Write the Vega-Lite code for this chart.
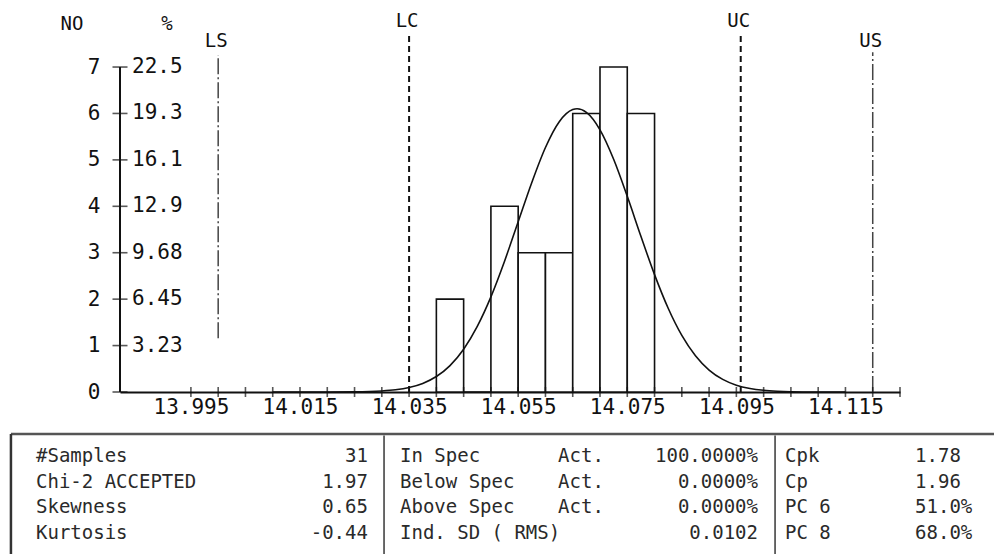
{
  "$schema": "https://vega.github.io/schema/vega-lite/v6.json",
  "autosize": {"type": "none"},
  "width": 780,
  "height": 383,
  "padding": {"left": 120, "top": 9, "right": 94, "bottom": 162},
  "background": "white",
  "config": {"view": {"stroke": null}, "font": "DejaVu Sans Mono", "text": {"font": "DejaVu Sans Mono"}},
  "datasets": {
    "bars": [
      {"bin_start": 14.040, "bin_end": 14.045, "count": 2},
      {"bin_start": 14.045, "bin_end": 14.050, "count": 0},
      {"bin_start": 14.050, "bin_end": 14.055, "count": 4},
      {"bin_start": 14.055, "bin_end": 14.060, "count": 3},
      {"bin_start": 14.060, "bin_end": 14.065, "count": 3},
      {"bin_start": 14.065, "bin_end": 14.070, "count": 6},
      {"bin_start": 14.070, "bin_end": 14.075, "count": 7},
      {"bin_start": 14.075, "bin_end": 14.080, "count": 6}
    ],
    "curve": [
      {"x": 14.010, "y": 0}, {"x": 14.015, "y": 0.0001}, {"x": 14.020, "y": 0.0006},
      {"x": 14.025, "y": 0.004}, {"x": 14.030, "y": 0.023}, {"x": 14.0325, "y": 0.048},
      {"x": 14.035, "y": 0.097}, {"x": 14.0375, "y": 0.185}, {"x": 14.040, "y": 0.333},
      {"x": 14.0425, "y": 0.569}, {"x": 14.045, "y": 0.922}, {"x": 14.0475, "y": 1.414},
      {"x": 14.050, "y": 2.050}, {"x": 14.0525, "y": 2.818}, {"x": 14.055, "y": 3.667},
      {"x": 14.0575, "y": 4.514}, {"x": 14.060, "y": 5.267}, {"x": 14.0625, "y": 5.817},
      {"x": 14.065, "y": 6.083}, {"x": 14.0658, "y": 6.100}, {"x": 14.0675, "y": 6.023},
      {"x": 14.070, "y": 5.648}, {"x": 14.0725, "y": 5.014}, {"x": 14.075, "y": 4.215},
      {"x": 14.0775, "y": 3.355}, {"x": 14.080, "y": 2.529}, {"x": 14.0825, "y": 1.804},
      {"x": 14.085, "y": 1.219}, {"x": 14.0875, "y": 0.781}, {"x": 14.090, "y": 0.473},
      {"x": 14.0925, "y": 0.271}, {"x": 14.095, "y": 0.147}, {"x": 14.0975, "y": 0.076},
      {"x": 14.100, "y": 0.037}, {"x": 14.1025, "y": 0.017}, {"x": 14.105, "y": 0.007},
      {"x": 14.110, "y": 0.001}, {"x": 14.115, "y": 0}
    ],
    "yticks": [
      {"no": 0, "pct": ""}, {"no": 1, "pct": "3.23"}, {"no": 2, "pct": "6.45"},
      {"no": 3, "pct": "9.68"}, {"no": 4, "pct": "12.9"}, {"no": 5, "pct": "16.1"},
      {"no": 6, "pct": "19.3"}, {"no": 7, "pct": "22.5"}
    ],
    "xticks": [
      {"v": 13.995}, {"v": 14.000}, {"v": 14.005}, {"v": 14.010}, {"v": 14.015},
      {"v": 14.020}, {"v": 14.025}, {"v": 14.030}, {"v": 14.035}, {"v": 14.040},
      {"v": 14.045}, {"v": 14.050}, {"v": 14.055}, {"v": 14.060}, {"v": 14.065},
      {"v": 14.070}, {"v": 14.075}, {"v": 14.080}, {"v": 14.085}, {"v": 14.090},
      {"v": 14.095}, {"v": 14.100}, {"v": 14.105}, {"v": 14.110}, {"v": 14.115},
      {"v": 14.120}, {"v": 14.125}
    ],
    "limits": [
      {"name": "LS", "value": 14.000},
      {"name": "LC", "value": 14.035},
      {"name": "UC", "value": 14.0958},
      {"name": "US", "value": 14.120}
    ],
    "table": [
      {"row": 1, "l1": "#Samples", "v1": "31", "l2": "In Spec", "a2": "Act.", "v2": "100.0000%", "l3": "Cpk", "v3": "1.78"},
      {"row": 2, "l1": "Chi-2 ACCEPTED", "v1": "1.97", "l2": "Below Spec", "a2": "Act.", "v2": "0.0000%", "l3": "Cp", "v3": "1.96"},
      {"row": 3, "l1": "Skewness", "v1": "0.65", "l2": "Above Spec", "a2": "Act.", "v2": "0.0000%", "l3": "PC 6", "v3": "51.0%"},
      {"row": 4, "l1": "Kurtosis", "v1": "-0.44", "l2": "Ind. SD ( RMS)", "a2": "", "v2": "0.0102\u00a0", "l3": "PC 8", "v3": "68.0%"}
    ]
  },
  "resolve": {"scale": {"x": "independent", "y": "independent"}},
  "layer": [
    {
      "encoding": {
        "x": {"type": "quantitative", "scale": {"domain": [13.982, 14.125], "nice": false, "zero": false}},
        "y": {"type": "quantitative", "scale": {"domain": [0, 8.25], "nice": false, "zero": false}}
      },
      "layer": [
        {
          "data": {"name": "bars"},
          "mark": {"type": "bar", "fill": "white", "stroke": "#111", "strokeWidth": 1.6},
          "encoding": {
            "x": {"field": "bin_start", "type": "quantitative",
              "axis": {"values": [13.995, 14.015, 14.035, 14.055, 14.075, 14.095, 14.115], "format": ".3f", "title": null,
                "ticks": false, "domain": true, "domainColor": "#111", "domainWidth": 2, "grid": false,
                "labelFont": "DejaVu Sans Mono", "labelFontSize": 21, "labelColor": "#111", "labelPadding": 4,
                "labelFlush": false, "labelOverlap": false}},
            "x2": {"field": "bin_end"},
            "y": {"field": "count", "type": "quantitative",
              "axis": {"values": [0, 1, 2, 3, 4, 5, 6, 7], "format": "d", "title": null, "domain": false, "ticks": false,
                "grid": false, "labelFont": "DejaVu Sans Mono", "labelFontSize": 21, "labelColor": "#111", "labelPadding": 20}},
            "y2": {"datum": 0}
          }
        },
        {
          "data": {"name": "curve"},
          "mark": {"type": "line", "color": "#111", "strokeWidth": 1.6, "interpolate": "monotone"},
          "encoding": {
            "x": {"field": "x", "type": "quantitative"},
            "y": {"field": "y", "type": "quantitative"}
          }
        },
        {
          "data": {"name": "limits"},
          "transform": [{"filter": "datum.name === 'LC' || datum.name === 'UC'"}],
          "mark": {"type": "rule", "color": "#111", "strokeWidth": 2, "strokeDash": [6, 4]},
          "encoding": {
            "x": {"field": "value", "type": "quantitative"},
            "y": {"datum": 0, "type": "quantitative"},
            "y2": {"datum": 7.7}
          }
        },
        {
          "data": {"name": "limits"},
          "transform": [{"filter": "datum.name === 'LS'"}],
          "mark": {"type": "rule", "color": "#444", "strokeWidth": 1.5, "strokeDash": [16, 3, 2, 3]},
          "encoding": {
            "x": {"field": "value", "type": "quantitative"},
            "y": {"datum": 1.16, "type": "quantitative"},
            "y2": {"datum": 7.26}
          }
        },
        {
          "data": {"name": "limits"},
          "transform": [{"filter": "datum.name === 'US'"}],
          "mark": {"type": "rule", "color": "#444", "strokeWidth": 1.5, "strokeDash": [16, 3, 2, 3]},
          "encoding": {
            "x": {"field": "value", "type": "quantitative"},
            "y": {"datum": 0, "type": "quantitative"},
            "y2": {"datum": 7.32}
          }
        },
        {
          "data": {"name": "limits"},
          "transform": [{"filter": "datum.name === 'LC' || datum.name === 'UC'"}],
          "mark": {"type": "text", "font": "DejaVu Sans Mono", "fontSize": 19, "color": "#111", "baseline": "middle", "align": "center", "dx": -2},
          "encoding": {
            "x": {"field": "value", "type": "quantitative"},
            "y": {"datum": 8.0, "type": "quantitative"},
            "text": {"field": "name"}
          }
        },
        {
          "data": {"name": "limits"},
          "transform": [{"filter": "datum.name === 'LS' || datum.name === 'US'"}],
          "mark": {"type": "text", "font": "DejaVu Sans Mono", "fontSize": 19, "color": "#111", "baseline": "middle", "align": "center", "dx": -2},
          "encoding": {
            "x": {"field": "value", "type": "quantitative"},
            "y": {"datum": 7.56, "type": "quantitative"},
            "text": {"field": "name"}
          }
        },
        {
          "data": {"name": "xticks"},
          "mark": {"type": "tick", "orient": "vertical", "color": "#111", "thickness": 1.6, "size": 10},
          "encoding": {
            "x": {"field": "v", "type": "quantitative"},
            "y": {"datum": 0, "type": "quantitative"}
          }
        },
        {
          "data": {"name": "yticks"},
          "mark": {"type": "tick", "orient": "horizontal", "color": "#111", "thickness": 1.6, "size": 15},
          "encoding": {
            "x": {"datum": 13.982, "type": "quantitative"},
            "y": {"field": "no", "type": "quantitative"}
          }
        },
        {
          "data": {"name": "yticks"},
          "mark": {"type": "rule", "color": "#111", "strokeWidth": 2},
          "encoding": {
            "x": {"datum": 13.982, "type": "quantitative"},
            "y": {"aggregate": "min", "field": "no", "type": "quantitative"},
            "y2": {"aggregate": "max", "field": "no"}
          }
        },
        {
          "data": {"name": "yticks"},
          "mark": {"type": "text", "font": "DejaVu Sans Mono", "fontSize": 21, "color": "#111", "align": "left", "baseline": "middle", "dx": 12},
          "encoding": {
            "x": {"datum": 13.982, "type": "quantitative"},
            "y": {"field": "no", "type": "quantitative"},
            "text": {"field": "pct"}
          }
        },
        {
          "data": {"values": [{"label": "NO"}]},
          "mark": {"type": "text", "font": "DejaVu Sans Mono", "fontSize": 19, "color": "#111", "align": "center", "baseline": "middle", "dx": -48},
          "encoding": {
            "x": {"datum": 13.982, "type": "quantitative"},
            "y": {"datum": 7.93, "type": "quantitative"},
            "text": {"field": "label"}
          }
        },
        {
          "data": {"values": [{"label": "%"}]},
          "mark": {"type": "text", "font": "DejaVu Sans Mono", "fontSize": 19, "color": "#111", "align": "center", "baseline": "middle", "dx": 47},
          "encoding": {
            "x": {"datum": 13.982, "type": "quantitative"},
            "y": {"datum": 7.93, "type": "quantitative"},
            "text": {"field": "label"}
          }
        }
      ]
    },
    {
      "encoding": {
        "x": {"type": "quantitative", "scale": {"domain": [0, 70], "range": [-84, 896], "nice": false, "zero": false}, "axis": null},
        "y": {"type": "quantitative", "scale": {"domain": [1, 4], "range": [447, 523.5], "nice": false, "zero": false}, "axis": null}
      },
      "layer": [
        {
          "data": {"values": [{"part": "top"}]},
          "mark": {"type": "rule", "color": "#555", "strokeWidth": 2.5},
          "encoding": {"x": {"datum": -1.79}, "x2": {"datum": 70}, "y": {"datum": 0.137}}
        },
        {
          "data": {"values": [{"part": "left"}]},
          "mark": {"type": "rule", "color": "#333", "strokeWidth": 2.5},
          "encoding": {"x": {"datum": -1.79}, "y": {"datum": 0.137}, "y2": {"datum": 5.5}}
        },
        {
          "data": {"values": [{"part": "sep1"}]},
          "mark": {"type": "rule", "color": "#444", "strokeWidth": 1.6},
          "encoding": {"x": {"datum": 24.86}, "y": {"datum": 0.2}, "y2": {"datum": 5.5}}
        },
        {
          "data": {"values": [{"part": "sep2"}]},
          "mark": {"type": "rule", "color": "#444", "strokeWidth": 1.6},
          "encoding": {"x": {"datum": 52.79}, "y": {"datum": 0.2}, "y2": {"datum": 5.5}}
        },
        {
          "data": {"name": "table"},
          "mark": {"type": "text", "font": "DejaVu Sans Mono", "fontSize": 19, "color": "#2a2a2a", "align": "left", "baseline": "middle"},
          "encoding": {"x": {"datum": 0}, "y": {"field": "row", "type": "quantitative"}, "text": {"field": "l1"}}
        },
        {
          "data": {"name": "table"},
          "mark": {"type": "text", "font": "DejaVu Sans Mono", "fontSize": 19, "color": "#2a2a2a", "align": "right", "baseline": "middle"},
          "encoding": {"x": {"datum": 23.71}, "y": {"field": "row", "type": "quantitative"}, "text": {"field": "v1"}}
        },
        {
          "data": {"name": "table"},
          "mark": {"type": "text", "font": "DejaVu Sans Mono", "fontSize": 19, "color": "#2a2a2a", "align": "left", "baseline": "middle"},
          "encoding": {"x": {"datum": 26}, "y": {"field": "row", "type": "quantitative"}, "text": {"field": "l2"}}
        },
        {
          "data": {"name": "table"},
          "mark": {"type": "text", "font": "DejaVu Sans Mono", "fontSize": 19, "color": "#2a2a2a", "align": "left", "baseline": "middle"},
          "encoding": {"x": {"datum": 37.29}, "y": {"field": "row", "type": "quantitative"}, "text": {"field": "a2"}}
        },
        {
          "data": {"name": "table"},
          "mark": {"type": "text", "font": "DejaVu Sans Mono", "fontSize": 19, "color": "#2a2a2a", "align": "right", "baseline": "middle"},
          "encoding": {"x": {"datum": 51.57}, "y": {"field": "row", "type": "quantitative"}, "text": {"field": "v2"}}
        },
        {
          "data": {"name": "table"},
          "mark": {"type": "text", "font": "DejaVu Sans Mono", "fontSize": 19, "color": "#2a2a2a", "align": "left", "baseline": "middle"},
          "encoding": {"x": {"datum": 53.5}, "y": {"field": "row", "type": "quantitative"}, "text": {"field": "l3"}}
        },
        {
          "data": {"name": "table"},
          "mark": {"type": "text", "font": "DejaVu Sans Mono", "fontSize": 19, "color": "#2a2a2a", "align": "left", "baseline": "middle"},
          "encoding": {"x": {"datum": 62.79}, "y": {"field": "row", "type": "quantitative"}, "text": {"field": "v3"}}
        }
      ]
    }
  ]
}
